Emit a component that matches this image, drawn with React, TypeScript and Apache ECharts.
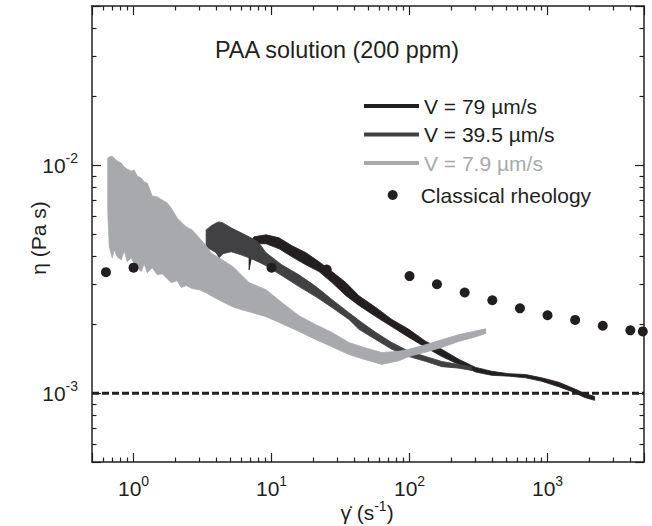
import React, { useEffect, useRef } from 'react';
import * as echarts from 'echarts';

// ---- axis ranges & texts ----
const X_MIN = 0.5;
const X_MAX = 5000;
const Y_MIN = 5e-4;
const Y_MAX = 5e-2;
const TITLE = 'PAA solution (200 ppm)';
const X_NAME = '{n|γ\u0307 (s}{s|-1}{n|)}';
const Y_NAME = 'η (Pa s)';
const NAME_79 = 'V = 79 µm/s';
const NAME_39 = 'V = 39.5 µm/s';
const NAME_8 = 'V = 7.9 µm/s';
const NAME_CLASSICAL = 'Classical rheology';

// ---- V = 79 µm/s (band: lower / upper envelope) ----
const V79_X = [6.875, 7.472, 9.125, 11.33, 14.07, 17.77, 22.07, 27.41, 34.6, 42.96, 57.05, 74.46, 98.83, 131.2, 171.3, 227.4, 301.8, 394.0, 523.0, 694.3, 906.6, 1203, 1494, 1855, 2192];
const V79_UPPER = [4.53e-3, 4.86e-3, 4.96e-3, 4.81e-3, 4.44e-3, 4.14e-3, 3.78e-3, 3.42e-3, 3.06e-3, 2.68e-3, 2.38e-3, 2.11e-3, 1.91e-3, 1.69e-3, 1.56e-3, 1.41e-3, 1.30e-3, 1.25e-3, 1.22e-3, 1.21e-3, 1.17e-3, 1.12e-3, 1.06e-3, 1.0e-3, 9.7e-4];
const V79_LOWER = [3.48e-3, 4.53e-3, 4.53e-3, 4.31e-3, 3.97e-3, 3.66e-3, 3.42e-3, 3.06e-3, 2.68e-3, 2.43e-3, 2.17e-3, 1.96e-3, 1.76e-3, 1.59e-3, 1.45e-3, 1.34e-3, 1.24e-3, 1.20e-3, 1.19e-3, 1.17e-3, 1.13e-3, 1.07e-3, 1.02e-3, 9.6e-4, 9.32e-4];

// ---- V = 39.5 µm/s ----
const V39_X = [3.357, 3.65, 3.967, 4.17, 4.458, 5.093, 6.015, 6.875, 7.988, 9.125, 11.91, 15.81, 20.99, 27.41, 36.38, 42.96, 57.05, 74.46, 98.83, 131.2, 171.3, 227.4, 282.4];
const V39_UPPER = [5.21e-3, 5.43e-3, 5.59e-3, 5.65e-3, 5.59e-3, 5.32e-3, 5.06e-3, 4.86e-3, 4.62e-3, 4.14e-3, 3.66e-3, 3.31e-3, 2.94e-3, 2.58e-3, 2.26e-3, 2.09e-3, 1.85e-3, 1.67e-3, 1.53e-3, 1.45e-3, 1.38e-3, 1.34e-3, 1.31e-3];
const V39_LOWER = [4.39e-3, 4.26e-3, 4.14e-3, 3.93e-3, 4.10e-3, 4.18e-3, 4.05e-3, 3.93e-3, 3.78e-3, 3.63e-3, 3.28e-3, 2.94e-3, 2.65e-3, 2.38e-3, 2.11e-3, 1.91e-3, 1.72e-3, 1.56e-3, 1.45e-3, 1.38e-3, 1.31e-3, 1.29e-3, 1.26e-3];

// ---- V = 7.9 µm/s ----
const V8_X = [0.6506, 0.6673, 0.7013, 0.725, 0.7621, 0.8145, 0.8564, 0.9003, 0.9624, 1.0117, 1.0636, 1.1369, 1.1953, 1.2564, 1.3654, 1.484, 1.6129, 1.7533, 1.8745, 2.0715, 2.2134, 2.4059, 2.6595, 2.9888, 3.3581, 3.65, 4.532, 5.354, 6.875, 9.125, 11.91, 15.81, 20.99, 27.41, 36.38, 46.7, 63.03, 83.67, 98.83, 137.9, 171.3, 227.4, 292.0, 356.6];
const V8_UPPER = [1.076e-2, 1.087e-2, 1.098e-2, 1.076e-2, 1.044e-2, 1.023e-2, 9.83e-3, 9.63e-3, 9.44e-3, 9.54e-3, 8.98e-3, 8.8e-3, 8.45e-3, 8.37e-3, 7.34e-3, 7.27e-3, 7.05e-3, 6.84e-3, 6.5e-3, 5.88e-3, 5.65e-3, 5.37e-3, 5.21e-3, 4.81e-3, 4.44e-3, 4.13e-3, 3.81e-3, 3.56e-3, 3.06e-3, 2.85e-3, 2.5e-3, 2.19e-3, 2.0e-3, 1.85e-3, 1.67e-3, 1.59e-3, 1.51e-3, 1.53e-3, 1.56e-3, 1.65e-3, 1.72e-3, 1.81e-3, 1.87e-3, 1.92e-3];
const V8_LOWER = [6.25e-3, 4.39e-3, 3.93e-3, 4.26e-3, 3.97e-3, 3.85e-3, 4.22e-3, 3.78e-3, 3.93e-3, 3.7e-3, 3.56e-3, 3.42e-3, 3.7e-3, 3.38e-3, 3.56e-3, 3.31e-3, 3.35e-3, 3.18e-3, 3.06e-3, 3.12e-3, 2.91e-3, 2.97e-3, 2.88e-3, 2.85e-3, 2.76e-3, 2.68e-3, 2.5e-3, 2.38e-3, 2.28e-3, 2.17e-3, 2.02e-3, 1.87e-3, 1.72e-3, 1.6e-3, 1.48e-3, 1.41e-3, 1.34e-3, 1.39e-3, 1.45e-3, 1.53e-3, 1.59e-3, 1.69e-3, 1.76e-3, 1.83e-3];

// ---- classical rheology ----
const CLASSICAL_X = [0.631, 1.0, 10, 25.1, 100, 158, 251, 398, 631, 1000, 1585, 2512, 3981, 4900];
const CLASSICAL_Y = [3.4e-3, 3.56e-3, 3.56e-3, 3.49e-3, 3.27e-3, 3.01e-3, 2.77e-3, 2.56e-3, 2.36e-3, 2.2e-3, 2.1e-3, 1.98e-3, 1.89e-3, 1.87e-3];

// ---- solvent viscosity reference ----
const SOLVENT_ETA = 1e-3;

const FONT = "'Liberation Sans', Arial, Helvetica, sans-serif";
const INK = '#231f20';
const C79 = '#231f20';
const C39 = '#414042';
const C8 = '#a7a9ac';
const LINE_ICON = 'path://M0 0H55V4H0Z';

const powRich = {
  b: { fontSize: 21, fontFamily: FONT, color: INK, lineHeight: 28 },
  s: { fontSize: 14, fontFamily: FONT, color: INK, lineHeight: 14, verticalAlign: 'top' },
};

const powFormatter = (v: number) => {
  const l = Math.log10(v);
  const e = Math.round(l);
  if (Math.abs(l - e) > 1e-6) return '';
  return `{b|10}{s|${e}}`;
};

function axisBase(min: number, max: number) {
  return {
    type: 'log',
    logBase: 10,
    min,
    max,
    axisLine: { show: true, onZero: false, lineStyle: { color: INK, width: 1.5 } },
    axisTick: { show: true, inside: true, length: 9, lineStyle: { color: INK, width: 1.2 } },
    minorTick: { show: true, splitNumber: 9, length: 4.5, lineStyle: { color: INK, width: 1.2 } },
    splitLine: { show: false },
    minorSplitLine: { show: false },
  };
}

// band between lower and upper envelope, drawn as one polygon through the axes' scales
function band(name: string, xs: number[], lo: number[], hi: number[], color: string) {
  return {
    type: 'custom',
    name,
    data: xs.map((x, i) => [x, lo[i], hi[i]]),
    encode: { x: 0, y: [1, 2] },
    itemStyle: { color },
    silent: true,
    renderItem: (params: any, api: any) => {
      if (params.dataIndexInside !== 0) return null;
      const n = params.dataInsideLength;
      const top: number[][] = [];
      const bottom: number[][] = [];
      for (let i = 0; i < n; i++) {
        const x = api.value(0, i);
        top.push(api.coord([x, api.value(2, i)]));
        bottom.push(api.coord([x, api.value(1, i)]));
      }
      return {
        type: 'polygon',
        shape: { points: top.concat(bottom.reverse()) },
        style: { fill: color, stroke: color, lineWidth: 0.8 },
      };
    },
  };
}

export default function App() {
  const ref = useRef<HTMLDivElement>(null);
  useEffect(() => {
    document.body.style.margin = '0';
    const chart = echarts.init(ref.current!, null, { renderer: 'svg' });
    const option: any = {
      animation: false,
      backgroundColor: '#ffffff',
      textStyle: { fontFamily: FONT },
      title: {
        text: TITLE,
        left: 215,
        top: 38,
        padding: 0,
        textStyle: { fontFamily: FONT, fontSize: 23.4, fontWeight: 'normal', color: INK },
      },
      graphic: [
        {
          type: 'text',
          x: 367,
          y: 512,
          silent: true,
          style: {
            text: X_NAME,
            align: 'center',
            verticalAlign: 'middle',
            rich: {
              n: { fontSize: 21, fontFamily: FONT, fill: INK, lineHeight: 26 },
              s: { fontSize: 14, fontFamily: FONT, fill: INK, lineHeight: 14, verticalAlign: 'top' },
            },
          },
        },
        {
          type: 'text',
          x: 38,
          y: 238,
          rotation: Math.PI / 2,
          silent: true,
          style: {
            text: Y_NAME,
            align: 'center',
            verticalAlign: 'middle',
            fontSize: 21,
            fontFamily: FONT,
            fill: INK,
          },
        },
      ],
      legend: [
        {
          orient: 'vertical',
          left: 364,
          top: 95,
          padding: 0,
          itemWidth: 55,
          itemHeight: 4,
          itemGap: 6.5,
          selectedMode: false,
          textStyle: { fontFamily: FONT, fontSize: 21, color: INK, lineHeight: 22 },
          data: [
            { name: NAME_79, icon: LINE_ICON, textStyle: { color: INK } },
            { name: NAME_39, icon: LINE_ICON, textStyle: { color: INK } },
            { name: NAME_8, icon: LINE_ICON, textStyle: { color: C8 } },
          ],
        },
        {
          orient: 'vertical',
          left: 387.7,
          top: 184,
          padding: 0,
          itemWidth: 10,
          itemHeight: 10,
          selectedMode: false,
          itemStyle: { color: INK, opacity: 1 },
          textStyle: { fontFamily: FONT, fontSize: 21, color: INK, lineHeight: 22, padding: [0, 0, 0, 18] },
          data: [{ name: NAME_CLASSICAL, icon: 'circle' }],
        },
      ],
      grid: { left: 92, right: 8, top: 6, bottom: 64, containLabel: false, outerBoundsMode: 'none' },
      xAxis: [
        {
          ...axisBase(X_MIN, X_MAX),
          position: 'bottom',
          axisLabel: { show: true, margin: 12, formatter: powFormatter, rich: powRich },
        },
        {
          ...axisBase(X_MIN, X_MAX),
          position: 'top',
          axisLabel: { show: false },
        },
      ],
      yAxis: [
        {
          ...axisBase(Y_MIN, Y_MAX),
          position: 'left',
          axisLabel: { show: true, margin: 14, formatter: powFormatter, rich: powRich },
        },
        {
          ...axisBase(Y_MIN, Y_MAX),
          position: 'right',
          axisLabel: { show: false },
        },
      ],
      series: [
        {
          type: 'line',
          name: 'solvent',
          data: [[X_MIN, SOLVENT_ETA], [X_MAX, SOLVENT_ETA]],
          symbol: 'none',
          lineStyle: { color: INK, width: 3, type: [7, 3] },
          silent: true,
        },
        band(NAME_79, V79_X, V79_LOWER, V79_UPPER, C79),
        band(NAME_39, V39_X, V39_LOWER, V39_UPPER, C39),
        band(NAME_8, V8_X, V8_LOWER, V8_UPPER, C8),
        {
          type: 'scatter',
          name: NAME_CLASSICAL,
          data: CLASSICAL_X.map((x, i) => [x, CLASSICAL_Y[i]]),
          symbol: 'circle',
          symbolSize: 10,
          itemStyle: { color: INK, opacity: 1 },
          silent: true,
        },
      ],
    };
    chart.setOption(option);
    return () => chart.dispose();
  }, []);
  return <div ref={ref} style={{ position: 'absolute', left: 0, top: 0, width: 652, height: 526 }} />;
}
